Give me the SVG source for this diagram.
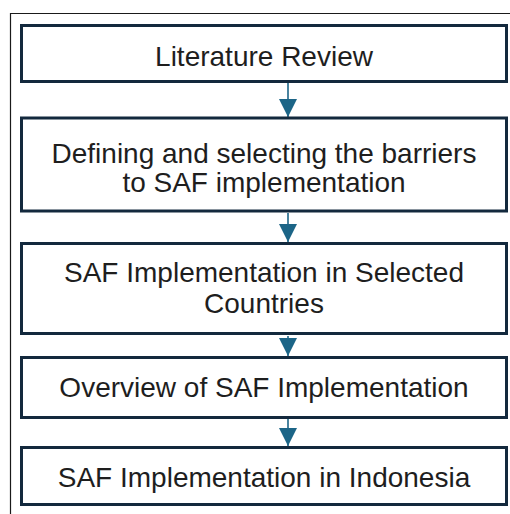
<svg xmlns="http://www.w3.org/2000/svg" width="510" height="514" viewBox="0 0 510 514">
  <style>
    .frame { fill: none; stroke: #1a1a1a; stroke-width: 1.2; }
    .box { fill: #ffffff; stroke: #13293d; stroke-width: 3; }
    .label { font-family: "Liberation Sans", Arial, sans-serif; font-size: 28px; fill: #1e1e1e; text-anchor: middle; }
    .flow { stroke: #1c6587; stroke-width: 1.6; fill: none; marker-end: url(#head); }
  </style>
  <defs>
    <marker id="head" markerUnits="userSpaceOnUse" markerWidth="18" markerHeight="18" refX="18" refY="9" orient="auto">
      <path d="M0,0 L18,9 L0,18 Z" fill="#1c6587"/>
    </marker>
  </defs>

  <rect width="510" height="514" fill="#ffffff"/>
  <!-- outer frame: top and left edges only -->
  <path class="frame" d="M10.5,514 V13.5 H510"/>

  <g id="connectors">
    <line class="flow" x1="288" y1="83" x2="288" y2="117"/>
    <line class="flow" x1="288" y1="213" x2="288" y2="242"/>
    <line class="flow" x1="288" y1="336" x2="288" y2="356"/>
    <line class="flow" x1="288" y1="419" x2="288" y2="446"/>
  </g>

  <g id="literature-review">
    <rect class="box" x="21.5" y="25.5" width="485" height="56"/>
    <text class="label" x="264" y="66">Literature Review</text>
  </g>

  <g id="defining-barriers">
    <rect class="box" x="21.5" y="118" width="485" height="93"/>
    <text class="label" x="264" y="163">Defining and selecting the barriers</text>
    <text class="label" x="264" y="192">to SAF implementation</text>
  </g>

  <g id="selected-countries">
    <rect class="box" x="21.5" y="243.5" width="485" height="90"/>
    <text class="label" x="264" y="282">SAF Implementation in Selected</text>
    <text class="label" x="264" y="313">Countries</text>
  </g>

  <g id="overview">
    <rect class="box" x="21.5" y="357.5" width="485" height="60"/>
    <text class="label" x="264" y="397">Overview of SAF Implementation</text>
  </g>

  <g id="indonesia">
    <rect class="box" x="21.5" y="447.5" width="485" height="57"/>
    <text class="label" x="264" y="487">SAF Implementation in Indonesia</text>
  </g>
</svg>
